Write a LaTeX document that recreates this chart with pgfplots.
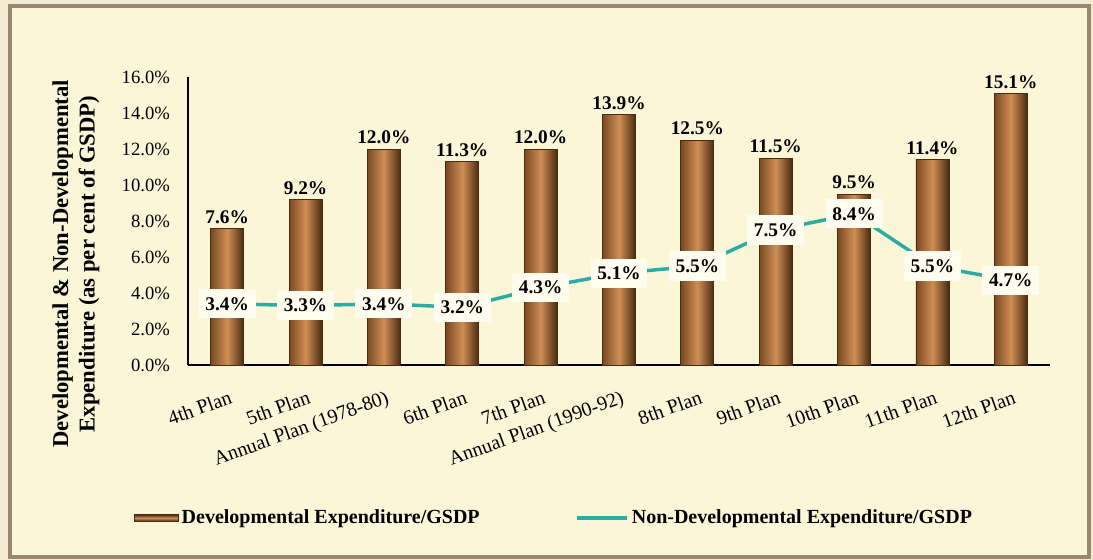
\documentclass[border=0pt]{standalone}
\usepackage{fontspec}
\setmainfont{Liberation Serif}
\usepackage{pgfplots}
\pgfplotsset{compat=1.18}
\definecolor{outerbg}{HTML}{F2EAD2}
\definecolor{innerbg}{HTML}{FBF6D7}
\definecolor{framec}{HTML}{9C8670}
\definecolor{lineteal}{HTML}{2AADA3}
\definecolor{bardark}{HTML}{4A2A10}
\definecolor{barleft}{HTML}{7A4A22}
\definecolor{barmid}{HTML}{CF8E55}
\definecolor{labelbg}{HTML}{FEFCEE}
\pgfplotsset{
  devbar/.style={ybar, bar width=24.75pt, draw=bardark, line width=0.6pt,
    left color=barleft, right color=bardark, middle color=barmid,
    nodes near coords={\pgfmathprintnumber[fixed,fixed zerofill,precision=1]{\pgfplotspointmeta}\%},
    every node near coord/.append style={text=black, font=\bfseries\fontsize{14.5}{16}\selectfont},
    legend image code/.code={\draw[draw=bardark, top color=bardark, bottom color=bardark, middle color=barmid] (0pt,-2.5pt) rectangle (33pt,2.5pt);}},
}
\begin{document}
\begin{tikzpicture}
\path[use as bounding box, fill=outerbg] (0,0) rectangle (819.75pt,-420pt);
\draw[framec, line width=3pt, fill=innerbg] (7.125pt,-4.5pt) rectangle (817.1pt,-417.75pt);
\begin{axis}[
  at={(141pt,-273.75pt)}, anchor=south west,
  scale only axis, width=646.5pt, height=216pt,
  xmin=-0.5, xmax=10.5, ymin=0, ymax=16,
  clip=false,
  axis x line*=bottom, axis y line*=left,
  axis line style={-, black, line width=0.8pt},
  ytick={0,2,...,16},
  yticklabel={\pgfmathprintnumber[fixed,fixed zerofill,precision=1]{\tick}\%},
  /pgf/number format/assume math mode=true,
  tick style={draw=none},
  xtick={0,...,10},
  xticklabels={4th Plan,5th Plan,Annual Plan (1978-80),6th Plan,7th Plan,Annual Plan (1990-92),8th Plan,9th Plan,10th Plan,11th Plan,12th Plan},
  yticklabel style={xshift=-10pt, font=\fontsize{14}{16}\selectfont},
  xticklabel style={yshift=-14pt, xshift=3pt, rotate=20, anchor=north east, font=\fontsize{15}{17}\selectfont},
  ylabel={Developmental \& Non-Developmental\\Expenditure (as per cent of GSDP)},
  ylabel style={at={(axis description cs:-0.13,0.351)}, anchor=center, align=center, font=\bfseries\fontsize{17}{20}\selectfont},
  legend style={draw=none, fill=none, at={(axis description cs:-0.0673,-0.531)}, anchor=west, legend columns=2, font=\bfseries\fontsize{15}{18}\selectfont, /tikz/every even column/.append style={column sep=70pt}},
]
\addplot[devbar] coordinates {(0,7.6)};
\addlegendentry{Developmental Expenditure/GSDP}
\addplot[devbar, forget plot] coordinates {(1,9.2)};
\addplot[devbar, forget plot] coordinates {(2,12.0)};
\addplot[devbar, forget plot] coordinates {(3,11.3)};
\addplot[devbar, forget plot] coordinates {(4,12.0)};
\addplot[devbar, forget plot] coordinates {(5,13.9)};
\addplot[devbar, forget plot] coordinates {(6,12.5)};
\addplot[devbar, forget plot] coordinates {(7,11.5)};
\addplot[devbar, forget plot] coordinates {(8,9.5)};
\addplot[devbar, forget plot] coordinates {(9,11.4)};
\addplot[devbar, forget plot] coordinates {(10,15.1)};
\addplot[lineteal, line width=2.6pt, mark=none,
  nodes near coords={\pgfmathprintnumber[fixed,fixed zerofill,precision=1]{\pgfplotspointmeta}\%},
  every node near coord/.append style={anchor=center, fill=labelbg, inner xsep=5pt, inner ysep=6pt, text=black, font=\bfseries\fontsize{14.5}{16}\selectfont},
  legend image code/.code={\draw[lineteal, line width=2.6pt] (0pt,0pt) -- (37.5pt,0pt);}]
  coordinates {(0,3.4) (1,3.3) (2,3.4) (3,3.2) (4,4.3) (5,5.1) (6,5.5) (7,7.5) (8,8.4) (9,5.5) (10,4.7)};
\addlegendentry{Non-Developmental Expenditure/GSDP}
\end{axis}
\end{tikzpicture}
\end{document}
